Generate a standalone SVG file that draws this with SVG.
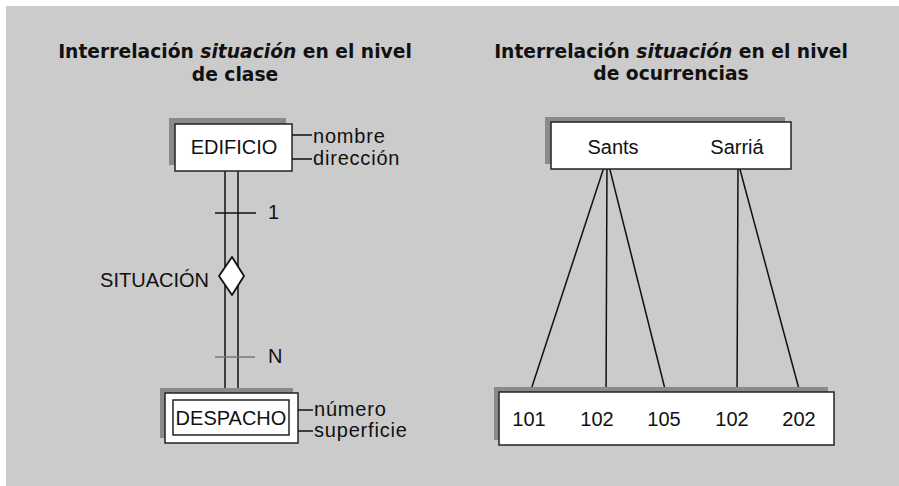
<svg xmlns="http://www.w3.org/2000/svg" width="899" height="486" viewBox="0 0 899 486">
<style>
.t{font-family:"Liberation Sans",Arial,sans-serif;font-size:20px;fill:#111}
.a{letter-spacing:0.8px}
.h{font-family:"DejaVu Sans","Liberation Sans",sans-serif;font-size:18.7px;font-weight:bold;fill:#111}
.box{fill:#fff;stroke:#222;stroke-width:1.5}
.sh{fill:#8a8a8a}
.ln{stroke:#111;stroke-width:1.5;fill:none}
</style>
<rect x="0" y="0" width="899" height="486" fill="#fff"/>
<rect x="6" y="6" width="893" height="480" fill="#cbcbcb"/>
<g id="title-left">
<text class="h" x="235" y="58" text-anchor="middle">Interrelación <tspan font-style="italic">situación</tspan> en el nivel</text>
<text class="h" x="235" y="81" text-anchor="middle">de clase</text>
</g>
<g id="title-right">
<text class="h" x="671" y="58" text-anchor="middle">Interrelación <tspan font-style="italic">situación</tspan> en el nivel</text>
<text class="h" x="671" y="80" text-anchor="middle">de ocurrencias</text>
</g>
<g id="connectors">
<line class="ln" x1="225" y1="171" x2="225" y2="393"/>
<line class="ln" x1="238" y1="171" x2="238" y2="393"/>
<line class="ln" x1="215" y1="213" x2="256" y2="213"/>
<line x1="215" y1="357" x2="255" y2="357" stroke="#777" stroke-width="1.5"/>
<line class="ln" x1="292" y1="135" x2="312" y2="135"/>
<line class="ln" x1="292" y1="159" x2="312" y2="159"/>
<line class="ln" x1="298" y1="410" x2="313" y2="410"/>
<line class="ln" x1="298" y1="431" x2="313" y2="431"/>
<line class="ln" x1="607" y1="158" x2="526" y2="405"/>
<line class="ln" x1="607" y1="158" x2="606" y2="404"/>
<line class="ln" x1="607" y1="158" x2="669" y2="405"/>
<line class="ln" x1="738" y1="162" x2="737" y2="403"/>
<line class="ln" x1="738" y1="162" x2="803" y2="404"/>
</g>
<g id="edificio">
<rect class="sh" x="169" y="118" width="117" height="47"/>
<rect class="box" x="175" y="124" width="117" height="47"/>
<text class="t" x="234" y="154" text-anchor="middle">EDIFICIO</text>
<text class="t a" x="313" y="143">nombre</text>
<text class="t a" x="313" y="165">dirección</text>
</g>
<g id="situacion">
<polygon points="232,257 244,276 232,295 219,276" fill="#fff" stroke="#111" stroke-width="1.8" stroke-linejoin="round"/>
<text class="t" x="209" y="287" text-anchor="end">SITUACIÓN</text>
<text class="t" x="268" y="219">1</text>
<text class="t" x="268" y="363">N</text>
</g>
<g id="despacho">
<rect class="sh" x="160" y="388" width="133" height="50"/>
<rect class="box" x="165" y="393" width="133" height="50"/>
<rect class="box" x="173" y="400" width="116" height="35"/>
<text class="t" x="231" y="425" text-anchor="middle">DESPACHO</text>
<text class="t a" x="314" y="416">número</text>
<text class="t a" x="314" y="437">superficie</text>
</g>
<g id="edificios-ocurrencias">
<rect class="sh" x="545" y="117" width="240" height="47"/>
<rect class="box" x="551" y="122" width="240" height="47"/>
<text class="t" x="613" y="154" text-anchor="middle">Sants</text>
<text class="t" x="737" y="154" text-anchor="middle">Sarriá</text>
</g>
<g id="despachos-ocurrencias">
<rect class="sh" x="494" y="387" width="334" height="53"/>
<rect class="box" x="499" y="392" width="335" height="53"/>
<text class="t" x="529" y="426" text-anchor="middle">101</text>
<text class="t" x="597" y="426" text-anchor="middle">102</text>
<text class="t" x="664" y="426" text-anchor="middle">105</text>
<text class="t" x="732" y="426" text-anchor="middle">102</text>
<text class="t" x="799" y="426" text-anchor="middle">202</text>
</g>
</svg>
